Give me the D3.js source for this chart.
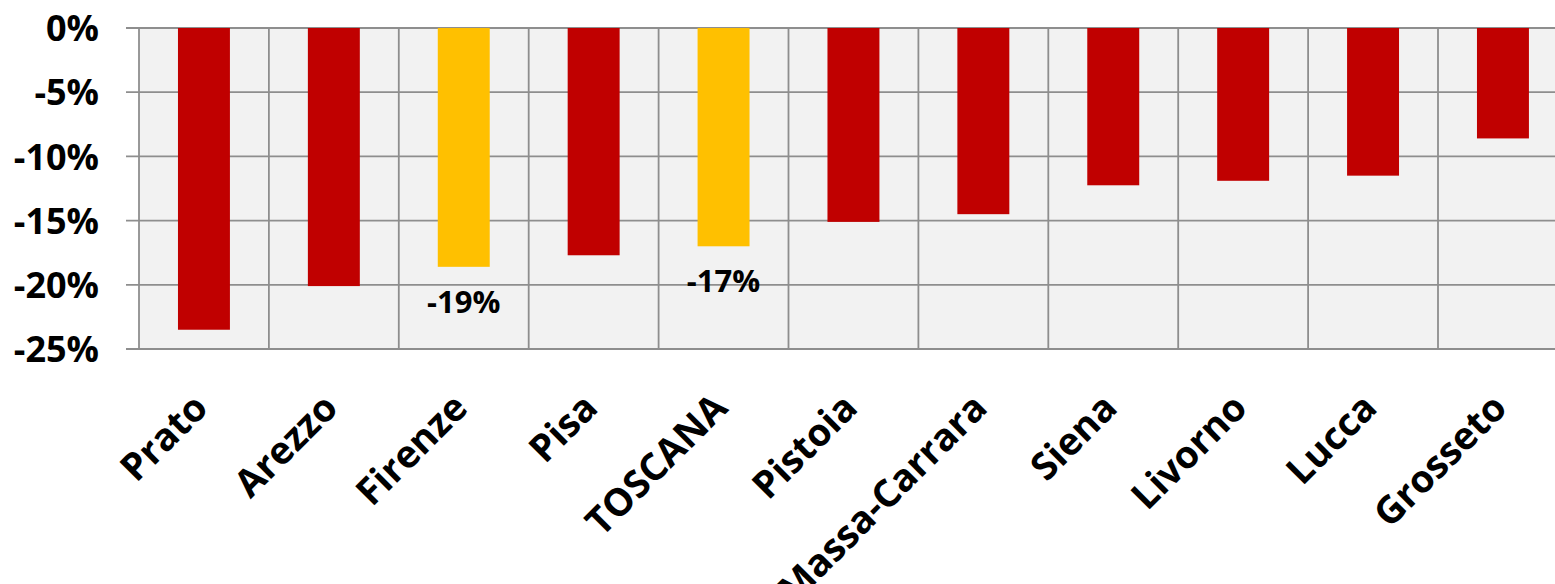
<!DOCTYPE html>
<html>
<head>
<meta charset="utf-8">
<script src="https://cdn.jsdelivr.net/npm/d3@7"></script>
<style>
  html, body { margin: 0; padding: 0; background: #ffffff; }
  svg { display: block; }
  text { font-family: "Open Sans", "DejaVu Sans", sans-serif; font-weight: 700; fill: #000; }
</style>
</head>
<body>
<svg id="chart" width="1555" height="584"></svg>
<script>
// Data
const categories = ["Prato", "Arezzo", "Firenze", "Pisa", "TOSCANA", "Pistoia", "Massa-Carrara", "Siena", "Livorno", "Lucca", "Grosseto"];
const values = [-23.5, -20.1, -18.6, -17.7, -17.0, -15.1, -14.5, -12.25, -11.9, -11.5, -8.6];
const highlighted = ["Firenze", "TOSCANA"];
const labelled = ["Firenze", "TOSCANA"];
const yTicks = [0, -5, -10, -15, -20, -25];

const W = 1555, H = 584;
const plotLeft = 139, plotTop = 28, plotBottom = 349;
const step = 129.9;
const svg = d3.select("#chart");

const x = d3.scaleBand()
  .domain(categories)
  .range([plotLeft, plotLeft + step * categories.length])
  .paddingInner(0).paddingOuter(0);

const y = d3.scaleLinear().domain([0, -25]).range([plotTop, plotBottom]);

// plot background
svg.append("rect")
  .attr("x", plotLeft).attr("y", plotTop)
  .attr("width", W - plotLeft).attr("height", plotBottom - plotTop)
  .attr("fill", "#f2f2f2");

const gridColor = "#8e8e8e";
// horizontal gridlines (with outward tick marks)
svg.append("g").selectAll("line").data(yTicks).join("line")
  .attr("x1", plotLeft - 13).attr("x2", W)
  .attr("y1", d => y(d)).attr("y2", d => y(d))
  .attr("stroke", gridColor).attr("stroke-width", 1.8);

// vertical category separators
const bounds = categories.map(c => x(c)).concat([x(categories[categories.length - 1]) + x.bandwidth()]);
svg.append("g").selectAll("line").data(bounds).join("line")
  .attr("x1", d => d).attr("x2", d => d)
  .attr("y1", plotTop).attr("y2", plotBottom)
  .attr("stroke", gridColor).attr("stroke-width", 1.8);

// bars
const barFrac = 0.4;
svg.append("g").selectAll("rect").data(categories).join("rect")
  .attr("x", (c) => x(c) + x.bandwidth() * (1 - barFrac) / 2)
  .attr("width", x.bandwidth() * barFrac)
  .attr("y", y(0))
  .attr("height", (c, i) => y(values[i]) - y(0))
  .attr("fill", c => highlighted.includes(c) ? "#ffc000" : "#c00000");

// data labels
svg.append("g").selectAll("text").data(categories.filter(c => labelled.includes(c))).join("text")
  .attr("x", c => x(c) + x.bandwidth() / 2)
  .attr("y", c => y(values[categories.indexOf(c)]) + 46)
  .attr("text-anchor", "middle")
  .style("font-size", "31px")
  .text(c => Math.round(values[categories.indexOf(c)]) + "%");

// y axis labels
const yAxis = d3.axisLeft(y).tickValues(yTicks).tickSize(0).tickPadding(0)
  .tickFormat(d => d + "%");
const gy = svg.append("g").attr("transform", "translate(99,0)").call(yAxis);
gy.select(".domain").remove();
gy.selectAll("text").style("font-size", "36px").style("font-family", "'Open Sans', sans-serif").style("font-weight", 700).attr("dy", "0.35em");

// x axis labels
const xAxis = d3.axisBottom(x).tickSize(0).tickPadding(0);
const gx = svg.append("g").attr("transform", "translate(0,0)").call(xAxis);
gx.select(".domain").remove();
gx.selectAll(".tick").attr("transform", c => `translate(${x(c) + x.bandwidth() / 2 + 6},410)`);
gx.selectAll("text")
  .attr("x", 0).attr("y", 0).attr("dy", 0)
  .attr("text-anchor", "end")
  .attr("transform", "rotate(-45)")
  .style("font-size", "38px").style("font-family", "'Open Sans', sans-serif").style("font-weight", 700);
</script>
</body>
</html>
